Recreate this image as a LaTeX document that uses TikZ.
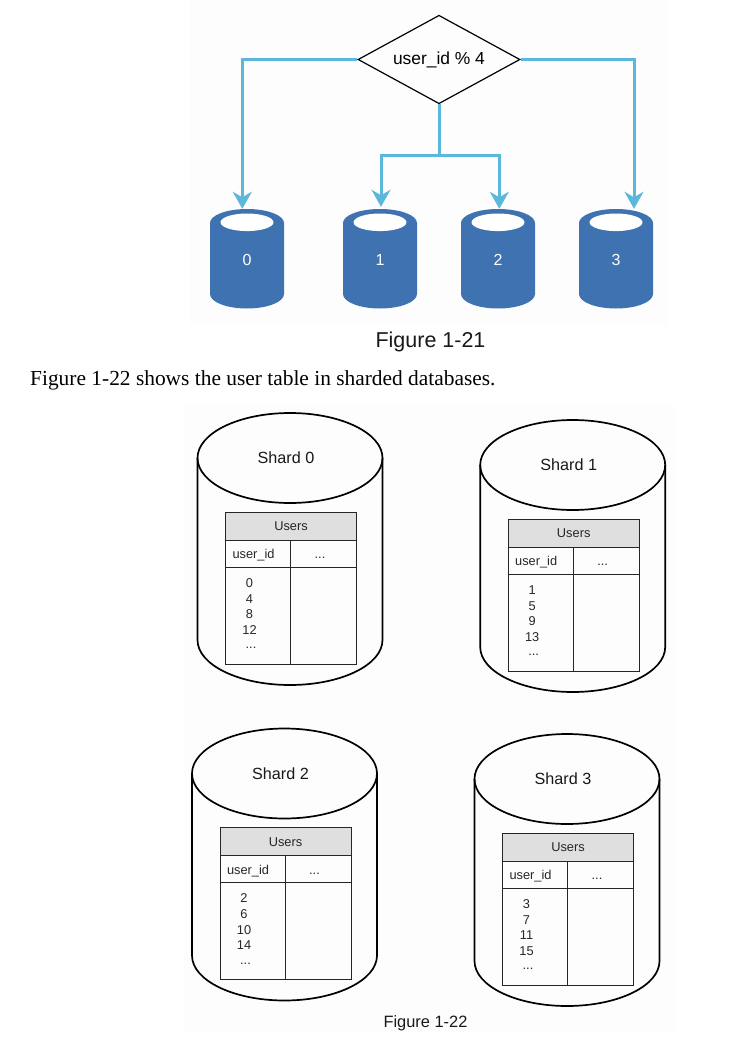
\documentclass[tikz,border=0pt]{standalone}
\usepackage{fontspec}
\setmainfont{Liberation Serif}
\setsansfont{Liberation Sans}
\usetikzlibrary{shapes.geometric,arrows.meta,calc}
\definecolor{dbblue}{HTML}{3F72B0}
\definecolor{arrowblue}{HTML}{5BB7DC}
\definecolor{headgray}{HTML}{DFDFDF}
\definecolor{panel}{HTML}{FDFDFD}
\tikzset{
 link/.style={draw=arrowblue,line width=3pt,-{Stealth[length=17pt,width=19pt,inset=5.5pt]}},
 trunk/.style={draw=arrowblue,line width=3pt},
 dbnum/.style={font=\sffamily\fontsize{16}{16}\selectfont,text=white,inner sep=0pt},
 dbframe/.style={inner sep=0pt,minimum width=74pt,minimum height=99.5pt},
 cellt/.style={font=\sffamily\fontsize{12.8}{12.8}\selectfont,text=black!85,inner sep=0pt},
 shardname/.style={font=\sffamily\fontsize{16.2}{16.2}\selectfont,text=black!90,inner sep=0pt},
 caption/.style={font=\sffamily,text=black!90,inner sep=0pt},
 shardline/.style={draw=black,line width=1.7pt},
 tblline/.style={draw=black!85,line width=1pt},
}
\newcommand{\bluedb}[4]{%
 \node[dbframe] (#1) at (#2,#3+49.75) {};
 \fill[dbblue] (#2-37,#3+14) arc[x radius=37,y radius=14,start angle=180,end angle=360]
   -- (#2+37,#3+85) arc[x radius=37,y radius=14.5,start angle=0,end angle=180] -- cycle;
 \fill[white] (#2,#3+13.3) ellipse[x radius=26.5,y radius=8.8];
 \node[dbnum] (#1n) at (#2,#3+50.5) {#4};
}
\newcommand{\shard}[8]{%
 \begin{scope}[shift={(#2,#3)}]
 \draw[shardline] (197.5,458) arc[x radius=92.5,y radius=45,start angle=180,end angle=-180];
 \draw[shardline] (197.5,458) -- (197.5,640) arc[x radius=92.5,y radius=45,start angle=180,end angle=0] -- (382.5,458);
 \node[shardname] (#1name) at (286,458) {#4};
 \path[fill=headgray] (225.5,512) rectangle (356.5,540);
 \draw[tblline] (225.5,512) rectangle (356.5,664);
 \draw[tblline] (225.5,540) -- (356.5,540);
 \draw[tblline] (225.5,567) -- (356.5,567);
 \draw[tblline] (290.8,540) -- (290.8,664);
 \node[cellt] (#1t) at (291,526.5) {Users};
 \node[cellt] (#1c) at (253.5,555.5) {user\_id};
 \node[cellt] (#1d) at (320,558) {...};
 \node[cellt] (#1a) at (249.5,583) {#5};
 \node[cellt] (#1b) at (249.5,599) {#6};
 \node[cellt] (#1e) at (249.5,614.5) {#7};
 \node[cellt] (#1f) at (249.5,630) {#8};
 \node[cellt] (#1g) at (251,648) {...};
 \end{scope}
}
\begin{document}
\begin{tikzpicture}[x=1pt,y=-1pt]
\useasboundingbox (0,0) rectangle (734,1038);
\fill[panel] (190,0) rectangle (668,325);
\fill[panel] (183,405) rectangle (675,1032);
\node[diamond,draw=black,line width=1.2pt,shape aspect=1.83,inner sep=0pt,minimum width=162pt,minimum height=88.5pt,font=\sffamily\fontsize{17.4}{17.4}\selectfont] (dia) at (439,59.5) {\raisebox{-1.5pt}{user\_id \% 4}};
\bluedb{d0}{247}{209}{0}
\bluedb{d1}{380}{209}{1}
\bluedb{d2}{498}{209}{2}
\bluedb{d3}{616}{209}{3}
\coordinate (junc) at (439,155);
\draw[trunk] (dia.south) -- (junc);
\draw[link] (dia.west) -| ($(d0.north)+(-4.7,0)$);
\draw[link] (junc) -| ($(d1.north)+(1,-2)$);
\draw[link] (junc) -| ($(d2.north)+(1.3,0)$);
\draw[link] (dia.east) -| ($(d3.north)+(18,0)$);
\node[caption,font=\sffamily\fontsize{21.5}{21.5}\selectfont] (cap1) at (430.5,341.5) {Figure 1-21};
\node[anchor=base west,inner sep=0pt,font=\fontsize{21.4}{21.4}\selectfont] (para) at (30,385) {Figure 1-22 shows the user table in sharded databases.};
\shard{sa}{0}{0}{Shard 0}{0}{4}{8}{12}
\shard{sb}{282.7}{7}{Shard 1}{1}{5}{9}{13}
\shard{sc}{-5.5}{315.5}{Shard 2}{2}{6}{10}{14}
\shard{sd}{277}{321}{Shard 3}{3}{7}{11}{15}
\node[caption,font=\sffamily\fontsize{16.4}{16.4}\selectfont] (cap2) at (425.5,1023.5) {Figure 1-22};
\end{tikzpicture}
\end{document}
